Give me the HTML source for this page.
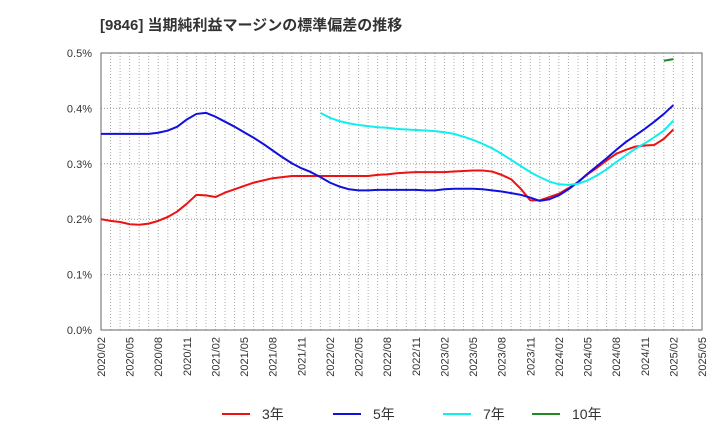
<!DOCTYPE html>
<html><head><meta charset="utf-8"><style>
body{margin:0;background:#fff;}
svg text{font-family:"Liberation Sans","Noto Sans CJK JP",sans-serif;}
</style></head><body>
<svg id="c" width="720" height="440" xmlns="http://www.w3.org/2000/svg">
<text x="100" y="30" font-size="15" font-weight="bold" fill="#333">[9846]  当期純利益マージンの標準偏差の推移</text>
<g id="grid"></g><g id="axes"></g><g id="series"></g><g id="legend"></g>
</svg>
<script>
const xLabels=["2020/02","2020/05","2020/08","2020/11","2021/02","2021/05","2021/08","2021/11","2022/02","2022/05","2022/08","2022/11","2023/02","2023/05","2023/08","2023/11","2024/02","2024/05","2024/08","2024/11","2025/02","2025/05"];
const yTicks=[0,0.1,0.2,0.3,0.4,0.5];
const yTickLabels=["0.0%","0.1%","0.2%","0.3%","0.4%","0.5%"];
const s3start=0;
const s3=[.200,.197,.195,.191,.190,.192,.197,.204,.214,.228,.244,.243,.240,.248,.254,.260,.266,.270,.274,.276,.278,.278,.278,.278,.278,.278,.278,.278,.278,.280,.281,.283,.284,.285,.285,.285,.285,.286,.287,.288,.288,.286,.280,.272,.255,.234,.234,.240,.246,.256,.267,.281,.293,.306,.318,.325,.331,.333,.334,.345,.362];
const s5start=0;
const s5=[.354,.354,.354,.354,.354,.354,.356,.360,.367,.380,.390,.392,.385,.376,.367,.357,.347,.336,.324,.312,.301,.292,.285,.276,.266,.259,.254,.252,.252,.253,.253,.253,.253,.253,.252,.252,.254,.255,.255,.255,.254,.252,.250,.247,.244,.239,.233,.236,.243,.254,.267,.282,.296,.310,.325,.339,.351,.363,.376,.390,.406];
const s7start=23;
const s7=[.392,.383,.377,.373,.370,.368,.366,.365,.363,.362,.361,.360,.359,.357,.354,.349,.343,.336,.328,.318,.307,.296,.285,.276,.268,.263,.262,.264,.270,.279,.290,.303,.315,.327,.337,.348,.360,.378];
const s10start=59;
const s10=[.486,.489];
const L=101,R=702,T=53,B=330,NM=63;
const X=m=>L+(R-L)*m/NM, Y=v=>B-(B-T)*v/0.5;
const NS="http://www.w3.org/2000/svg";
function mk(tag,parent,attrs){const e=document.createElementNS(NS,tag);for(const k in attrs)e.setAttribute(k,attrs[k]);parent.appendChild(e);return e;}
const g=document.getElementById('grid');
for(let m=1;m<NM;m++){const l=mk('line',g,{x1:X(m),x2:X(m),y1:T,y2:B,stroke:'#aaa','stroke-width':1,'stroke-dasharray':'1,2'});

}
yTicks.forEach((v,i)=>{if(v>0&&v<0.5){const l=mk('line',g,{x1:L,x2:R,y1:Y(v),y2:Y(v),stroke:'#999','stroke-width':1,'stroke-dasharray':'1,2'});

}
const t=mk('text',g,{x:92,y:Y(v)+4,'font-size':11,'text-anchor':'end',fill:'#333'});t.textContent=yTickLabels[i];

});
const fr=mk('rect',document.getElementById('axes'),{x:L,y:T,width:R-L,height:B-T,fill:'none',stroke:'#666','stroke-width':1});


xLabels.forEach((s,i)=>{const x=X(i*3);const t=mk('text',document.getElementById('axes'),{x:0,y:0,'font-size':11,'text-anchor':'end',fill:'#333',transform:`translate(${x+4},337) rotate(-90)`});t.textContent=s;

});
const sg=document.getElementById('series');
function line(arr,start,color,name){const p=mk('polyline',sg,{points:arr.map((v,i)=>X(start+i)+','+Y(v)).join(' '),fill:'none',stroke:color,'stroke-width':2,'stroke-linejoin':'round'});

}
line(s3,s3start,'#ee1111','series-3y');
line(s5,s5start,'#1111dd','series-5y');
line(s7,s7start,'#11eeee','series-7y');
line(s10,s10start,'#228822','series-10y');
const lg=document.getElementById('legend');
[['3年','#ee1111',222],['5年','#1111dd',333],['7年','#11eeee',443],['10年','#228822',532]].forEach(([t,c,x])=>{
const e=mk('g',lg,{});


mk('line',e,{x1:x,x2:x+28,y1:414,y2:414,stroke:c,'stroke-width':2});
const tx=mk('text',e,{x:x+40,y:419,'font-size':14,fill:'#333'});tx.textContent=t;});
</script>
</body></html>
